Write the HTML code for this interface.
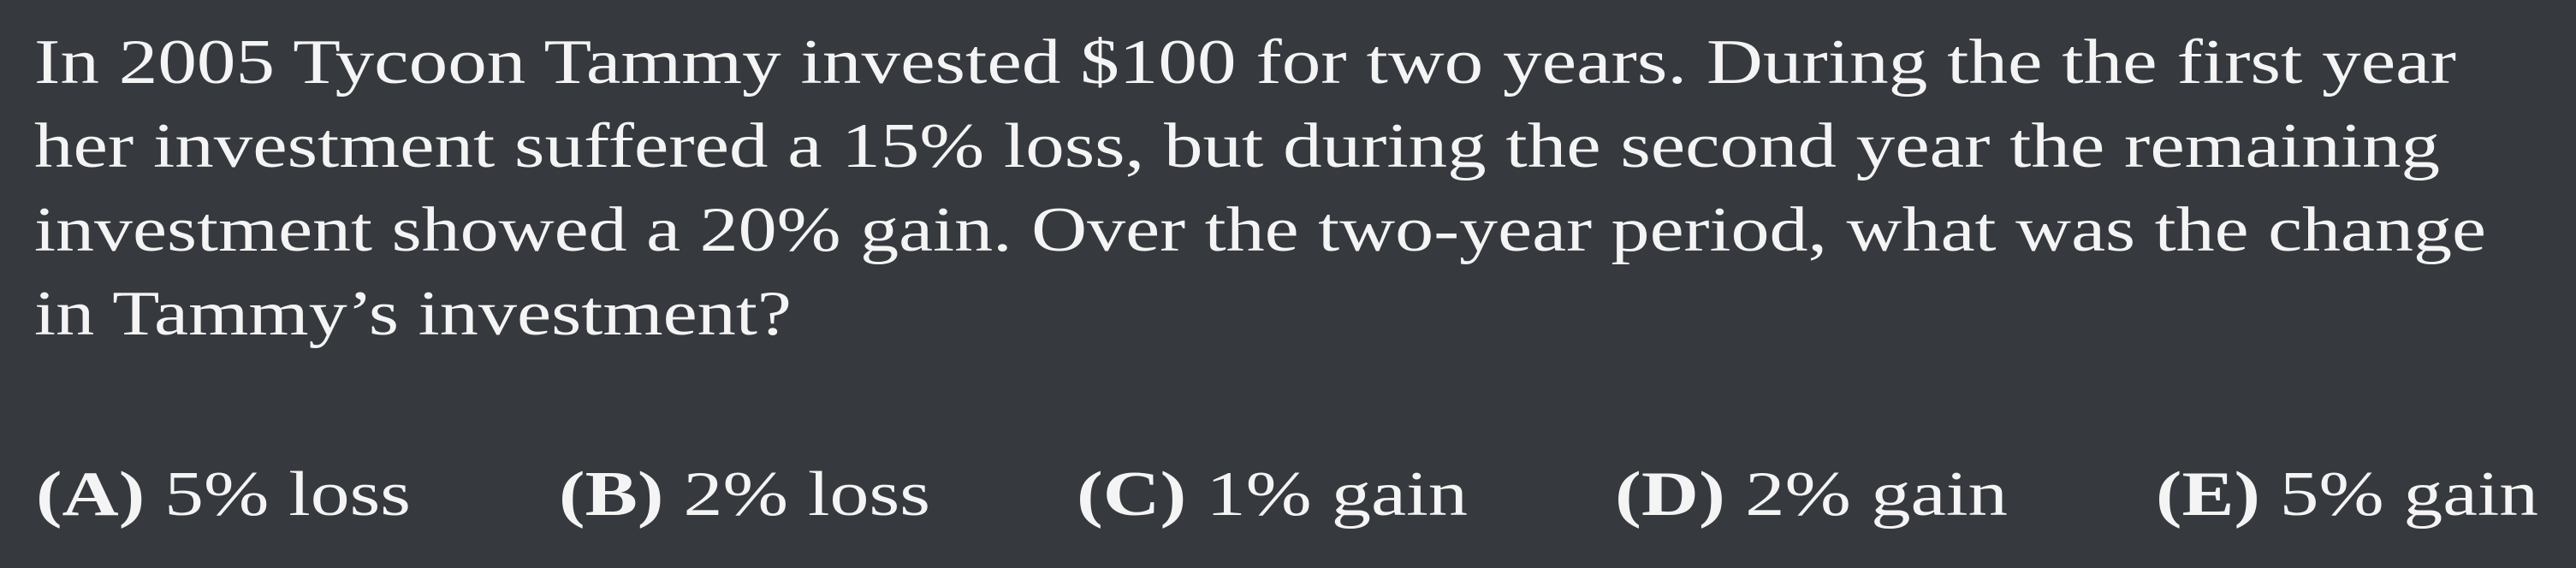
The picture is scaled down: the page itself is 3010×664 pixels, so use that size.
<!DOCTYPE html>
<html><head><meta charset="utf-8"><style>
html,body{margin:0;padding:0;background:#36393e;}
svg{display:block}
text{font-family:"Liberation Serif",serif;fill:#f4f4f4;font-size:74px;}
.b{font-weight:bold}
</style></head><body>
<svg width="3010" height="664" viewBox="0 0 3010 664">
<rect width="3010" height="664" fill="#36393e"/>
<g>
<text x="40" y="97" textLength="2830" lengthAdjust="spacingAndGlyphs">In 2005 Tycoon Tammy invested $100 for two years. During the the first year</text>
<text x="40" y="195" textLength="2811" lengthAdjust="spacingAndGlyphs">her investment suffered a 15% loss, but during the second year the remaining</text>
<text x="40" y="293" textLength="2865" lengthAdjust="spacingAndGlyphs">investment showed a 20% gain. Over the two-year period, what was the change</text>
<text x="40" y="391" textLength="885" lengthAdjust="spacingAndGlyphs">in Tammy’s investment?</text>
</g>
<g>
<text x="42" y="602" textLength="438" lengthAdjust="spacingAndGlyphs"><tspan class="b">(A)</tspan> 5% loss</text>
<text x="653" y="602" textLength="434" lengthAdjust="spacingAndGlyphs"><tspan class="b">(B)</tspan> 2% loss</text>
<text x="1258" y="602" textLength="457" lengthAdjust="spacingAndGlyphs"><tspan class="b">(C)</tspan> 1% gain</text>
<text x="1887" y="602" textLength="459" lengthAdjust="spacingAndGlyphs"><tspan class="b">(D)</tspan> 2% gain</text>
<text x="2519" y="602" textLength="447" lengthAdjust="spacingAndGlyphs"><tspan class="b">(E)</tspan> 5% gain</text>
</g>
</svg>
</body></html>
